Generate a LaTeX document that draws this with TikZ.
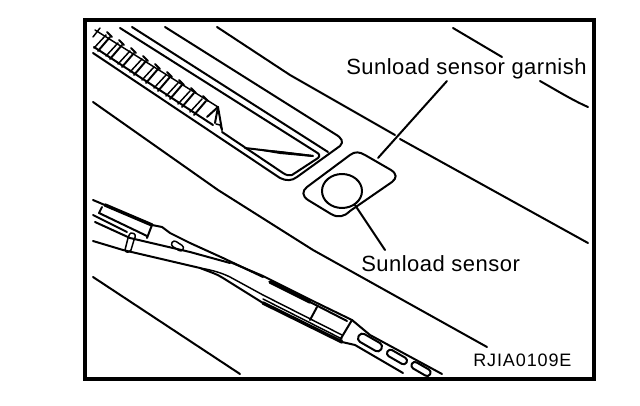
\documentclass[tikz,border=0pt]{standalone}
\usepackage{fontspec}
\setmainfont{Liberation Sans}
\newfontfamily\biglettered[LetterSpace=2.2]{Liberation Sans}
\newfontfamily\codelettered[LetterSpace=5]{Liberation Sans}
\tikzset{
  ink/.style={line width=1.5pt,line cap=round,line join=round,black},
  fine/.style={line width=1.1pt,line cap=round,line join=round,black},
  heavy/.style={line width=2.6pt,line cap=round,line join=round,black},
  frame/.style={line width=3pt,black},
  biglabel/.style={inner sep=0pt,anchor=base west,font=\biglettered\fontsize{16.5}{18}\selectfont},
  smalllabel/.style={inner sep=0pt,anchor=base west,font=\codelettered\fontsize{13.5}{15}\selectfont}
}
\begin{document}
\begin{tikzpicture}[x=0.75pt,y=-0.75pt]
\useasboundingbox (0,0) rectangle (640,406);
\fill[white] (0,0) rectangle (640,406);
\draw[frame] (85,20) rectangle (594,379);
% body lines
\draw[ink] (217,27) -- (290,75) -- (395,135);
\draw[ink] (400,139) -- (588,243);
\draw[ink] (453,28) -- (502,57);
\draw[ink] (540,81) .. controls (556,90) and (572,100) .. (588,107);
\draw[ink] (93,102) -- (218,190) -- (313,250) -- (487,347);
\draw[ink] (93,277) -- (240,374);
% recess
\draw[ink] (165,27) -- (335,134) .. controls (342,138) and (344,142) .. (340,146) -- (297,177) .. controls (292,181) and (286,181) .. (280,178) -- (93,53);
\draw[ink] (120,28) -- (316,152) .. controls (320,154) and (320,156) .. (318,158) -- (292,175) .. controls (289,176) and (286,175) .. (283,173) -- (222,132);
\draw[ink] (132,27) -- (328,152);
\draw[ink] (245,148) -- (313,156);
\fill (245,148) -- (280,151) -- (313,155) -- (313,157) -- (280,154) -- cycle;
% vent
\draw[fine] (95,30) -- (218,107);
\draw[ink] (94,47) -- (213,125);
\foreach \i in {0,...,8}{
  \draw[ink] ({110+12*\i},{37+8*\i}) -- ({98+12*\i},{51+8*\i});
  \draw[fine] ({106+12*\i},{35+8*\i}) -- ({94+12*\i},{48+8*\i});
  \draw[ink] ({107+12*\i},{32+8*\i}) -- ({112+12*\i},{37+8*\i});
}
\draw[ink] (218,107) -- (207,117);
\draw[ink] (218,107) -- (215,123);
\draw[ink] (218,107) -- (222,130);
\draw[fine] (216,124) -- (220,125) -- (222,130);
\draw[fine] (93,37) -- (100,28);
% garnish and sensor
\draw[ink] (350,155) .. controls (355,151) and (360,152) .. (365,155) -- (391,170) .. controls (397,174) and (397,178) .. (392,182) -- (350,211) .. controls (344,217) and (338,218) .. (331,214) -- (308,200) .. controls (302,196) and (302,191) .. (307,187) -- cycle;
\draw[ink] (342,191) ellipse [x radius=20, y radius=17];
\coordinate (garnishedge) at (378,158);
\coordinate (sensoredge) at (355,205);
\coordinate (garnishend) at (447,81);
\coordinate (sensorend) at (385,250);
\draw[ink] (garnishend) -- (garnishedge);
\draw[ink] (sensoredge) -- (sensorend);
% wiper arm
\draw[heavy] (105,205) -- (152,225);
\draw[ink] (93,200) -- (152,225) -- (162,227) -- (170,233) -- (190,243) -- (223,258) -- (263,277);
\draw[ink] (102,207) -- (99,213) -- (147,236);
\draw[ink] (152,225) -- (147,238);
\draw[ink] (93,215) -- (127,232);
\draw[ink] (95,222) -- (130,238) -- (190,252) -- (230,263);
\draw[ink] (93,241) -- (123,250) -- (200,268);
\draw[fine] (131,233) .. controls (136,233) and (136,236) .. (134,240) -- (131,250) .. controls (129,253) and (126,253) .. (125,250) -- (128,238) .. controls (129,235) and (130,233) .. (131,233);
\draw[fine,rounded corners=2.2pt,rotate around={-33:(177.5,246)}] (171,243) rectangle (184,249);
% blade
\draw[heavy] (270,282) -- (310,302);
\draw[ink] (230,262) -- (263,276) -- (317,303) -- (352,320);
\draw[ink] (310,302) -- (347,321);
\draw[fine] (200,268) .. controls (212,270) and (222,273) .. (230,277) -- (263,295);
\draw[ink] (200,268) .. controls (210,272) and (217,274) .. (223,278) -- (263,303);
\draw[heavy] (263,303) -- (342,342);
\draw[fine] (263,295) -- (342,335);
\draw[fine] (263,299) -- (342,339);
\draw[ink] (317,307) -- (310,320);
\draw[ink] (352,320) -- (340,340);
\draw[ink] (352,320) -- (370,335) -- (442,374);
\draw[ink] (342,342) -- (355,345) -- (367,352) -- (403,373);
\draw[ink,rounded corners=3pt,rotate around={-30:(370,342.5)}] (357,338) rectangle (383,347);
\draw[ink,rounded corners=2.5pt,rotate around={-30:(397,357)}] (386,353.5) rectangle (408,360.5);
\draw[ink,rounded corners=2.5pt,rotate around={-30:(421,369)}] (410.5,365.5) rectangle (431.5,372.5);
% labels
\node[biglabel] (garnishlabel) at (346,75) {Sunload sensor garnish};
\node[biglabel] (sensorlabel) at (361,272) {Sunload sensor};
\node[smalllabel] (codelabel) at (473,367) {RJIA0109E};
\end{tikzpicture}
\end{document}
